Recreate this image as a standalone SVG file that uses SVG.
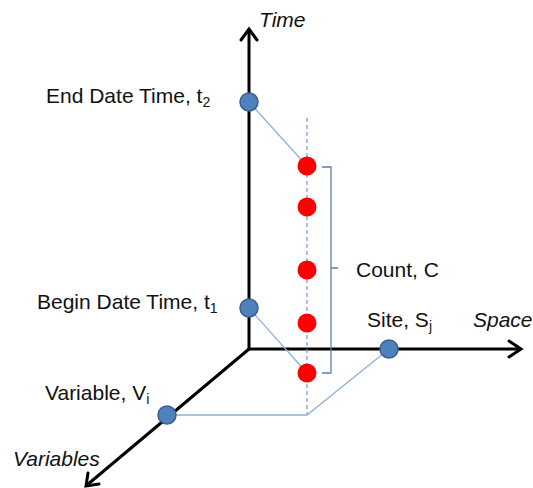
<svg xmlns="http://www.w3.org/2000/svg" width="533" height="488" viewBox="0 0 533 488">
<style>
.axis{stroke:#000;stroke-width:3;fill:none;stroke-linecap:round}
.head{stroke:#000;stroke-width:3;fill:none;stroke-linecap:round;stroke-linejoin:miter}
.link{stroke:#8FB0D8;stroke-width:1.3;fill:none}
.dash{stroke:#6F95C8;stroke-width:1.2;fill:none;stroke-dasharray:4 3}
.brace{stroke:#5B80B0;stroke-width:1.3;fill:none}
.bdot{fill:#4F81BD;stroke:#3A6090;stroke-width:1.5}
.rdot{fill:#FF0000}
text{font-family:"Liberation Sans",Arial,sans-serif;font-size:21px;fill:#111}
.it{font-style:italic}
.sub{font-size:14px}
</style>
<rect width="533" height="488" fill="#fff"/>
<g id="connectors">
<line class="axis" x1="249" y1="349" x2="249" y2="30"/>
<polyline class="head" points="241,40 249,29 257,40"/>
<line class="axis" x1="249" y1="349" x2="520" y2="349"/>
<polyline class="head" points="509,341 521,349 509,357"/>
<line class="axis" x1="249" y1="349" x2="87" y2="485"/>
<polyline class="head" points="88,473 86,486 99,484"/>
<line class="dash" x1="307" y1="118" x2="307" y2="415"/>
<line class="link" x1="249" y1="102" x2="307" y2="166"/>
<line class="link" x1="249" y1="308" x2="307" y2="373"/>
<polyline class="link" points="167,415 307,415 389,349"/>
<path class="brace" d="M322,167 L331,167 L331,268 L338,268 M331,268 L331,373 L322,373"/>
</g>
<g id="axis-time"><text class="it" x="259" y="27">Time</text></g>
<g id="axis-space"><text class="it" x="473" y="327">Space</text></g>
<g id="axis-variables"><text class="it" x="13" y="466">Variables</text></g>
<g id="end-date-time">
<circle class="bdot" cx="249" cy="102" r="9"/>
<text x="46" y="103">End Date Time, t<tspan class="sub" dy="4">2</tspan></text>
</g>
<g id="begin-date-time">
<circle class="bdot" cx="249" cy="308" r="9"/>
<text x="37" y="309">Begin Date Time, t<tspan class="sub" dy="4">1</tspan></text>
</g>
<g id="site">
<circle class="bdot" cx="389" cy="349" r="9"/>
<text x="367" y="327">Site, S<tspan class="sub" dy="4">j</tspan></text>
</g>
<g id="variable">
<circle class="bdot" cx="167" cy="415" r="9"/>
<text x="45" y="400">Variable, V<tspan class="sub" dy="4">i</tspan></text>
</g>
<g id="counts">
<circle class="rdot" cx="307" cy="166" r="9.5"/>
<circle class="rdot" cx="307" cy="207" r="9.5"/>
<circle class="rdot" cx="307" cy="270" r="9.5"/>
<circle class="rdot" cx="307" cy="323" r="9.5"/>
<circle class="rdot" cx="307" cy="373" r="9.5"/>
</g>
<g id="count-label"><text x="356" y="277">Count, C</text></g>
</svg>
